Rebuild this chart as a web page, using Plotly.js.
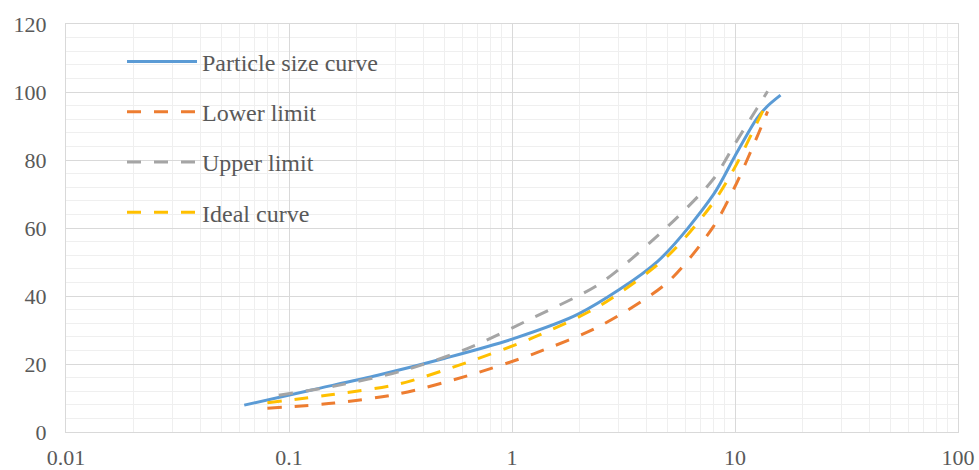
<!DOCTYPE html>
<html>
<head>
<meta charset="utf-8">
<script src="https://cdn.plot.ly/plotly-3.0.1.min.js"></script>
<style>
  html, body { margin: 0; padding: 0; background: #ffffff; }
  #chart { width: 979px; height: 470px; }
</style>
</head>
<body>
<div id="chart"></div>
<script>
// Sieve sizes (mm) and percent passing for the measured grading curve
const particleSize = [0.063, 0.125, 0.25, 0.5, 1, 2, 4.5, 8, 10, 12.5, 14, 16];
const particlePass = [7.9, 12.3, 16.7, 21.7, 27.3, 34.8, 50.2, 69.8, 81.2, 92.1, 95.9, 99.1];

// Sieve sizes (mm) shared by the lower limit and the ideal curve
const envelopeSize = [0.08, 0.16, 0.315, 0.63, 1.25, 2.5, 5, 8, 10, 12.5, 14];
const lowerPass = [7.0, 8.5, 11.3, 16.5, 23.0, 31.3, 44.1, 60.4, 72.2, 86.5, 94.3];
const idealPass = [8.6, 11.1, 14.2, 20.5, 27.8, 37.3, 51.8, 67.5, 77.9, 90.7, 97.3];

// Upper limit begins at a slightly coarser size
const upperSize = [0.09, 0.16, 0.315, 0.63, 1.25, 2.5, 5, 8, 10, 12.5, 14];
const upperPass = [10.8, 13.5, 17.8, 24.5, 33.7, 43.8, 60.5, 74.4, 84.8, 95.0, 100.2];

// Axis ticks
const xTickVals = [0.01, 0.1, 1, 10, 100];
const xTickText = ['0.01', '0.1', '1', '10', '100'];

const seriesNames = ['Particle size curve', 'Lower limit', 'Upper limit', 'Ideal curve'];
const seriesColors = ['#5B9BD5', '#ED7D31', '#A5A5A5', '#FFC000'];

const dashPattern = '14px,13px';
const serif = 'Times New Roman, Liberation Serif, DejaVu Serif, serif';

function curve(x, y, idx, dashed) {
  return {
    x: x,
    y: y,
    name: seriesNames[idx],
    legendgroup: 'g' + idx,
    type: 'scatter',
    mode: 'lines',
    line: {
      color: seriesColors[idx],
      width: 3,
      shape: 'spline',
      smoothing: 0.8,
      dash: dashed ? dashPattern : 'solid'
    },
    hoverinfo: 'x+y'
  };
}

const traces = [
  curve(particleSize, particlePass, 0, false),
  curve(envelopeSize, lowerPass, 1, true),
  curve(upperSize, upperPass, 2, true),
  curve(envelopeSize, idealPass, 3, true)
];

const textColor = '#595959';
const majorGrid = '#d9d9d9';
const minorGrid = '#efefef';

const layout = {
  width: 979,
  height: 470,
  margin: { l: 66, r: 21, t: 24, b: 38, pad: 0 },
  paper_bgcolor: '#ffffff',
  plot_bgcolor: '#ffffff',
  font: { family: serif, size: 22, color: textColor },
  showlegend: true,
  legend: {
    x: 0.0628,
    xanchor: 'left',
    y: 0.962,
    yanchor: 'top',
    bgcolor: 'rgba(0,0,0,0)',
    borderwidth: 0,
    itemwidth: 70,
    tracegroupgap: 16,
    font: { family: serif, size: 24, color: textColor }
  },
  xaxis: {
    type: 'log',
    range: [-2, 2],
    tickmode: 'array',
    tickvals: xTickVals,
    ticktext: xTickText,
    ticks: '',
    ticklabelstandoff: 6,
    showgrid: true,
    gridcolor: majorGrid,
    gridwidth: 1,
    minor: { dtick: 'D1', showgrid: true, gridcolor: minorGrid, gridwidth: 1, ticks: '' },
    showline: true,
    mirror: true,
    linecolor: majorGrid,
    linewidth: 1,
    zeroline: false,
    fixedrange: true
  },
  yaxis: {
    range: [0, 120],
    dtick: 20,
    ticks: '',
    ticklabelstandoff: 14,
    showgrid: true,
    gridcolor: majorGrid,
    gridwidth: 1,
    minor: { dtick: 4, showgrid: true, gridcolor: minorGrid, gridwidth: 1, ticks: '' },
    showline: true,
    mirror: true,
    linecolor: majorGrid,
    linewidth: 1,
    zeroline: false,
    fixedrange: true
  }
};

Plotly.newPlot('chart', traces, layout, { displayModeBar: false, staticPlot: true });
</script>
</body>
</html>
